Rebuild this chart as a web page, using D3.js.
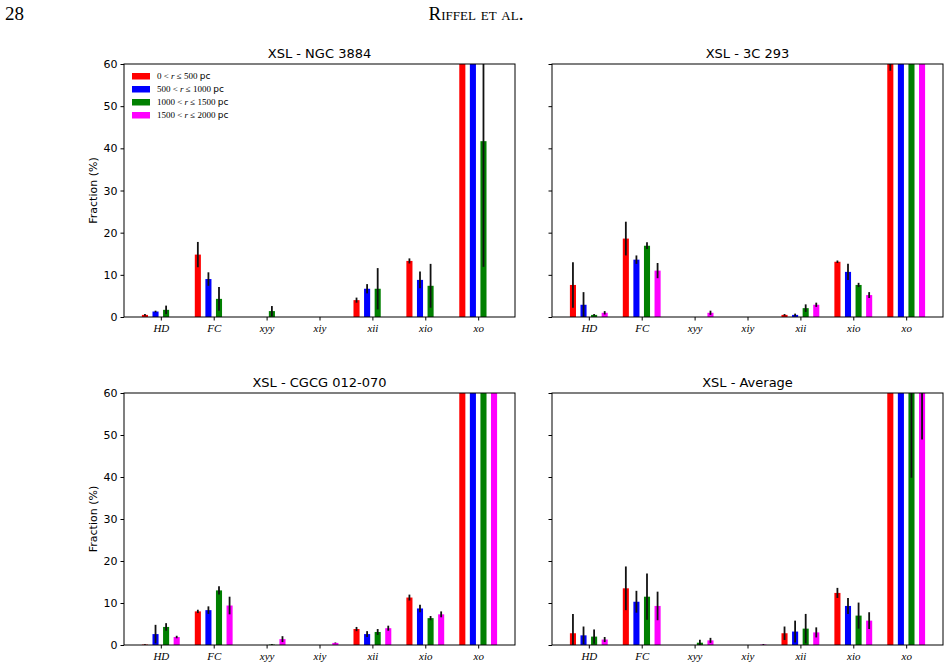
<!DOCTYPE html>
<html>
<head>
    <meta charset="utf-8" />
    <title>XSL fractions</title>
    <style>
        body { margin: 0; background: #fff; }
        svg { display: block; }
        .tick text { font-family: "DejaVu Sans", sans-serif; }
    </style>
    <script type="text/javascript" src="https://cdn.jsdelivr.net/npm/d3@7/dist/d3.min.js"></script>
</head>
<body>
    <div id="svg"></div>

    <script type="text/javascript">
        var categories = ['HD', 'FC', 'xyy', 'xiy', 'xii', 'xio', 'xo'];
        var seriesLo = ['0', '500', '1000', '1500'];
        var seriesHi = ['500', '1000', '1500', '2000'];
        var colors = ['#ff0000', '#0000ff', '#008000', '#ff00ff'];
        var yTicks = [0, 10, 20, 30, 40, 50, 60];

        // values per panel: one row per radial bin, columns follow categories
        var ngc3884Val = [
            [0.5, 14.8, 0, 0, 4.0, 13.3, 68],
            [1.3, 9.0, 0, 0, 6.7, 8.8, 74],
            [1.7, 4.3, 1.4, 0, 6.7, 7.4, 41.7],
            [0, 0, 0, 0, 0, 0, 0]
        ];
        var ngc3884Err = [
            [0.2, 3.0, 0, 0, 0.6, 0.6, 2],
            [0.2, 1.6, 0, 0, 1.1, 2.0, 2],
            [1.0, 2.8, 1.2, 0, 4.9, 5.2, 29.8],
            [0, 0, 0, 0, 0, 0, 0]
        ];
        var c3c293Val = [
            [7.6, 18.6, 0, 0, 0.5, 13.1, 62],
            [2.9, 13.6, 0, 0, 0.5, 10.7, 80],
            [0.5, 16.9, 0, 0, 2.1, 7.6, 85],
            [1.0, 11.0, 1.0, 0, 2.9, 5.2, 78]
        ];
        var c3c293Err = [
            [5.4, 4.0, 0, 0, 0.2, 0.3, 3.6],
            [3.0, 1.0, 0, 0, 0.3, 1.9, 1],
            [0.2, 0.8, 0, 0, 0.9, 0.5, 1],
            [0.4, 1.8, 0.5, 0, 0.5, 0.7, 1]
        ];
        var cgcgVal = [
            [0.1, 8.0, 0, 0, 3.8, 11.3, 76],
            [2.6, 8.3, 0, 0, 2.6, 8.7, 77],
            [4.3, 13.0, 0.1, 0, 3.1, 6.4, 73],
            [1.9, 9.4, 1.4, 0.5, 4.0, 7.3, 76]
        ];
        var cgcgErr = [
            [0.1, 0.4, 0, 0, 0.5, 0.7, 1],
            [2.2, 0.9, 0, 0, 0.7, 0.9, 1],
            [0.9, 1.0, 0.1, 0, 0.7, 0.5, 1],
            [0.3, 2.1, 0.7, 0.1, 0.6, 0.7, 1]
        ];
        var averageVal = [
            [2.8, 13.5, 0, 0, 2.8, 12.4, 70],
            [2.3, 10.3, 0, 0, 3.2, 9.3, 74],
            [2.0, 11.5, 0.55, 0, 3.9, 7.0, 72],
            [1.3, 9.3, 1.1, 0.1, 3.0, 5.8, 70]
        ];
        var averageErr = [
            [4.6, 5.2, 0, 0, 1.6, 1.2, 2],
            [2.1, 2.6, 0, 0, 2.6, 1.9, 2],
            [1.7, 5.5, 0.7, 0, 3.5, 3.1, 32.2],
            [0.6, 3.4, 0.6, 0.1, 1.2, 2.0, 21.1]
        ];

        var width = 951,
            height = 669;

        var svg = d3.select('#svg')
            .append('svg')
            .attr('width', width)
            .attr('height', height);

        // page header
        svg.append('text')
            .attr('x', 5).attr('y', 20)
            .style('font-family', '"Liberation Serif", serif')
            .style('font-size', '19px')
            .text('28');
        svg.append('text')
            .attr('x', 476).attr('y', 20)
            .attr('text-anchor', 'middle')
            .style('font-family', '"Liberation Serif", serif')
            .style('font-size', '19px')
            .style('font-variant', 'small-caps')
            .text('Riffel et al.');

        var panels = [
            { title: 'XSL - NGC 3884', val: ngc3884Val, err: ngc3884Err, x0: 124, x1: 515, y0: 64, y1: 317, labels: true, legend: true },
            { title: 'XSL - 3C 293', val: c3c293Val, err: c3c293Err, x0: 552, x1: 943, y0: 64, y1: 317, labels: false },
            { title: 'XSL - CGCG 012-070', val: cgcgVal, err: cgcgErr, x0: 124, x1: 515, y0: 393, y1: 645, labels: true },
            { title: 'XSL - Average', val: averageVal, err: averageErr, x0: 552, x1: 943, y0: 393, y1: 645, labels: false }
        ];

        var barStep = 0.2,
            barWidth = 0.115;

        panels.forEach(function(p, pi) {
            var xScale = d3.scaleLinear()
                .domain([-0.696, categories.length - 1 + 0.696])
                .range([p.x0, p.x1]);

            var yScale = d3.scaleLinear()
                .domain([0, 60])
                .range([p.y1, p.y0]);

            var g = svg.append('g');

            var clipId = 'clip' + pi;
            svg.append('clipPath').attr('id', clipId)
                .append('rect')
                .attr('x', p.x0).attr('y', p.y0)
                .attr('width', p.x1 - p.x0).attr('height', p.y1 - p.y0);

            var plot = g.append('g').attr('clip-path', 'url(#' + clipId + ')');

            p.val.forEach(function(row, si) {
                var off = (si - 1.5) * barStep;
                var pts = row.map((v, i) => ({ i: i, v: v, e: p.err[si][i] }));

                plot.selectAll('.bar' + si)
                    .data(pts)
                    .enter()
                    .append('rect')
                    .attr('x', d => xScale(d.i + off - barWidth / 2))
                    .attr('width', xScale(barWidth) - xScale(0))
                    .attr('y', d => yScale(d.v))
                    .attr('height', d => p.y1 - yScale(d.v))
                    .attr('fill', colors[si]);

                plot.selectAll('.err' + si)
                    .data(pts.filter(d => d.e > 0))
                    .enter()
                    .append('line')
                    .attr('x1', d => xScale(d.i + off))
                    .attr('x2', d => xScale(d.i + off))
                    .attr('y1', d => yScale(d.v - d.e))
                    .attr('y2', d => yScale(d.v + d.e))
                    .attr('stroke', '#111')
                    .attr('stroke-width', 1.8);
            });

            // frame
            g.append('rect')
                .attr('x', p.x0).attr('y', p.y0)
                .attr('width', p.x1 - p.x0).attr('height', p.y1 - p.y0)
                .attr('fill', 'none')
                .attr('stroke', '#000')
                .attr('stroke-width', 1);

            var xAxis = d3.axisBottom(xScale)
                .tickValues(d3.range(categories.length))
                .tickFormat(i => categories[i])
                .tickSizeOuter(0)
                .tickSize(3.5)
                .tickPadding(4);

            var gX = g.append('g')
                .attr('transform', 'translate(0, ' + p.y1 + ')')
                .call(xAxis);
            gX.select('.domain').remove();
            gX.selectAll('text')
                .style('font-family', '"Liberation Serif", serif')
                .style('font-style', 'italic')
                .style('font-size', '11px')
                .attr('fill', '#000');

            var yAxis = d3.axisLeft(yScale)
                .tickValues(yTicks)
                .tickSizeOuter(0)
                .tickSize(3.5)
                .tickPadding(3);
            if (!p.labels) yAxis.tickFormat('');

            var gY = g.append('g')
                .attr('transform', 'translate(' + p.x0 + ', 0)')
                .call(yAxis);
            gY.select('.domain').remove();
            gY.selectAll('text')
                .style('font-size', '11px')
                .attr('fill', '#000');

            if (p.labels) {
                g.append('text')
                    .attr('transform', 'translate(' + (p.x0 - 27) + ',' + ((p.y0 + p.y1) / 2) + ') rotate(-90)')
                    .attr('text-anchor', 'middle')
                    .style('font-family', '"DejaVu Sans", sans-serif')
                    .style('font-size', '11px')
                    .text('Fraction (%)');
            }

            g.append('text')
                .attr('x', (p.x0 + p.x1) / 2)
                .attr('y', p.y0 - 6)
                .attr('text-anchor', 'middle')
                .style('font-family', '"DejaVu Sans", sans-serif')
                .style('font-size', '13px')
                .text(p.title);

            if (p.legend) {
                var lg = g.append('g')
                    .attr('transform', 'translate(' + (p.x0 + 8) + ',' + (p.y0 + 12) + ')');
                colors.forEach(function(c, si) {
                    var row = lg.append('g').attr('transform', 'translate(0,' + si * 13 + ')');
                    row.append('rect')
                        .attr('x', 0).attr('y', -3)
                        .attr('width', 18).attr('height', 6.5)
                        .attr('fill', c);
                    var t = row.append('text')
                        .attr('x', 25).attr('y', 3)
                        .style('font-family', '"Liberation Serif", serif')
                        .style('font-size', '9px');
                    t.append('tspan').text(seriesLo[si] + ' < ');
                    t.append('tspan').style('font-style', 'italic').text('r');
                    t.append('tspan').text(' ≤ ' + seriesHi[si] + ' ');
                    t.append('tspan')
                        .style('font-family', '"DejaVu Sans", sans-serif')
                        .text('pc');
                });
            }
        });
    </script>
</body>
</html>
